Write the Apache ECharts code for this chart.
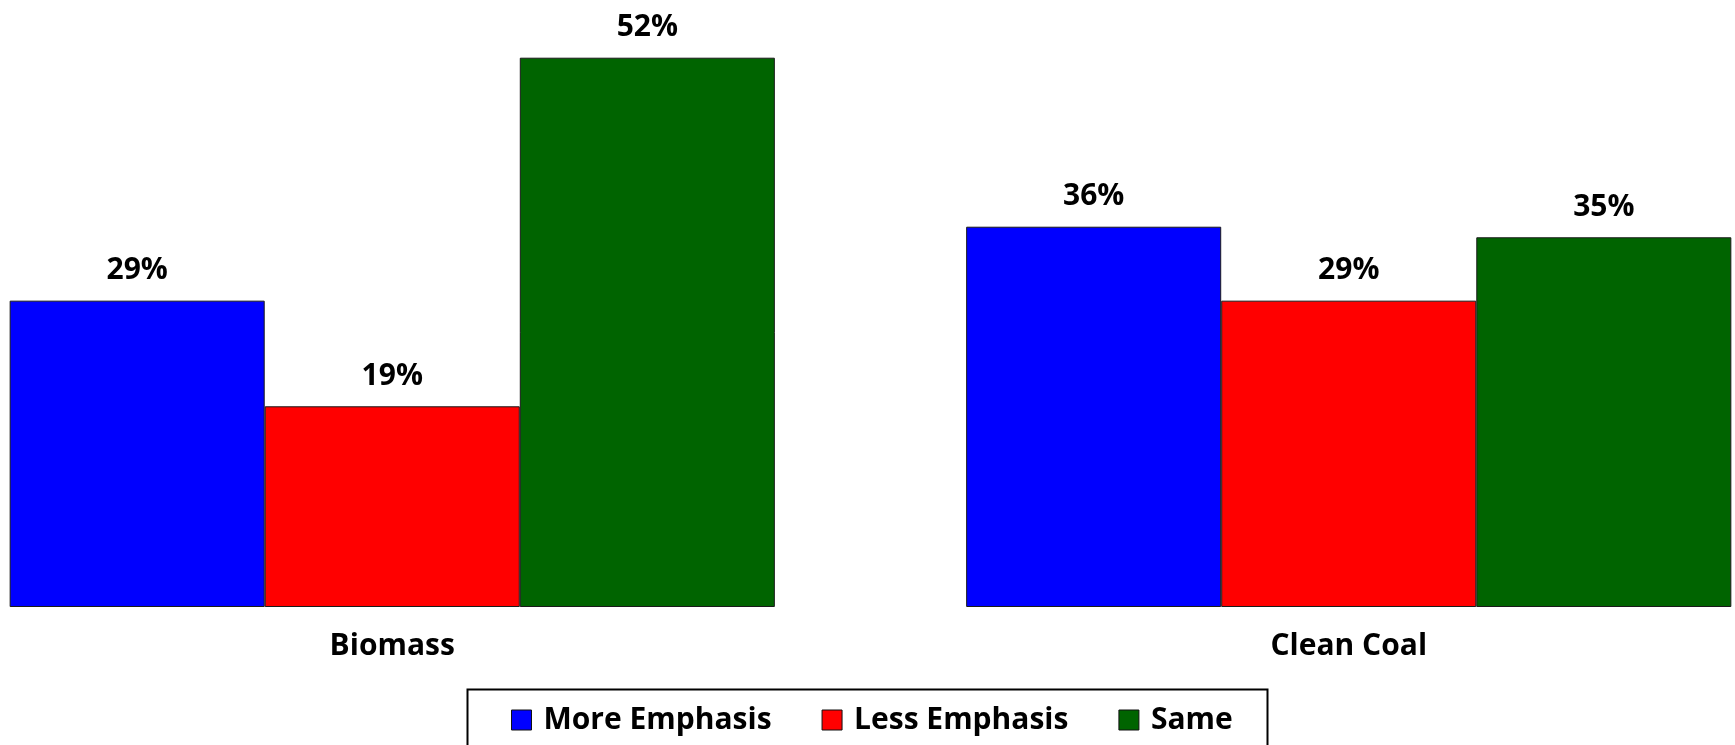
<!DOCTYPE html>
<html>
<head>
<meta charset="utf-8">
<script src="https://cdn.jsdelivr.net/npm/echarts@6/dist/echarts.min.js"></script>
<style>
html,body{margin:0;padding:0;background:#fff;}
#chart{width:1735px;height:745px;}
</style>
</head>
<body>
<div id="chart"></div>
<script>
const categories = ['Biomass', 'Clean Coal'];
const seriesNames = ['More Emphasis', 'Less Emphasis', 'Same'];
const moreEmphasis = [29, 36];
const lessEmphasis = [19, 29];
const same = [52, 35];
const colors = ['#0000FF', '#FF0000', '#006400'];

const font = "'Open Sans', 'Noto Sans', sans-serif";
const values = [moreEmphasis, lessEmphasis, same];

const chart = echarts.init(document.getElementById('chart'), null, {renderer: 'canvas'});
chart.setOption({
  animation: false,
  backgroundColor: '#ffffff',
  grid: {left: -86, right: -92, top: 26, bottom: 138, containLabel: false, outerBoundsMode: 'none'},
  xAxis: {
    type: 'category',
    data: categories,
    axisLine: {show: false},
    axisTick: {show: false},
    axisLabel: {
      margin: 24,
      color: '#000',
      fontFamily: font,
      fontWeight: 'bold',
      fontSize: 30
    }
  },
  yAxis: {
    type: 'value',
    min: 0,
    max: 55,
    show: false,
    splitLine: {show: false}
  },
  legend: {
    left: 511,
    top: 705,
    padding: 0,
    itemWidth: 20,
    itemHeight: 20,
    itemGap: 50,
    icon: 'rect',
    itemStyle: {borderColor: '#111', borderWidth: 1},
    textStyle: {
      color: '#000',
      fontFamily: font,
      fontWeight: 'bold',
      fontSize: 30,
      lineHeight: 30,
      padding: [0, 0, 0, 7]
    },
    data: seriesNames
  },
  graphic: [{
    type: 'rect',
    left: 465,
    top: 687,
    shape: {width: 800, height: 80},
    style: {fill: 'none', stroke: '#000', lineWidth: 2},
    silent: true
  }],
  series: seriesNames.map((name, i) => ({
    name: name,
    type: 'bar',
    data: values[i],
    barGap: '0%',
    barCategoryGap: '20%',
    itemStyle: {color: colors[i], borderColor: '#1a1a1a', borderWidth: 1},
    label: {
      show: true,
      position: 'top',
      distance: 15,
      formatter: '{c}%',
      color: '#000',
      fontFamily: font,
      fontWeight: 'bold',
      fontSize: 30
    }
  }))
});
</script>
</body>
</html>
